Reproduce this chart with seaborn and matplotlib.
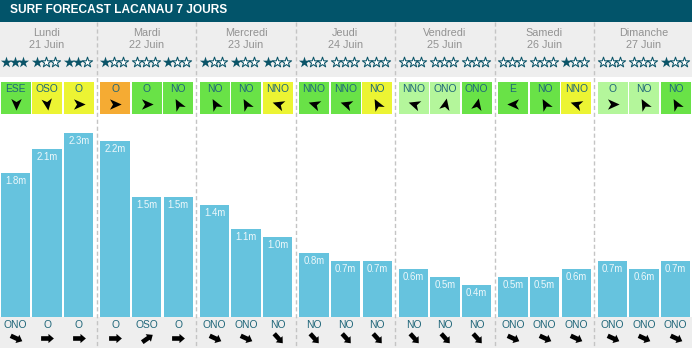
import numpy as np
import pandas as pd
import matplotlib
matplotlib.use("Agg")
import matplotlib.pyplot as plt
import seaborn as sns
from matplotlib.patches import Rectangle
from matplotlib.path import Path
from matplotlib.markers import MarkerStyle
from matplotlib.transforms import Affine2D

# ---------------- data ----------------
title = "SURF FORECAST LACANAU 7 JOURS"
days = ["Lundi", "Mardi", "Mercredi", "Jeudi", "Vendredi", "Samedi", "Dimanche"]
dates = ["21 Juin", "22 Juin", "23 Juin", "24 Juin", "25 Juin", "26 Juin", "27 Juin"]

wave_heights = [1.8, 2.1, 2.3,
                2.2, 1.5, 1.5,
                1.4, 1.1, 1.0,
                0.8, 0.7, 0.7,
                0.6, 0.5, 0.4,
                0.5, 0.5, 0.6,
                0.7, 0.6, 0.7]

stars = [3, 1, 2,
         1, 0, 1,
         1, 1, 1,
         1, 0, 0,
         0, 0, 0,
         0, 0, 1,
         0, 0, 1]

wind_dirs = ["ESE", "OSO", "O",
             "O", "O", "NO",
             "NO", "NO", "NNO",
             "NNO", "NNO", "NO",
             "NNO", "ONO", "ONO",
             "E", "NO", "NNO",
             "O", "NO", "NO"]

# wind quality category per slot: g=green, y=yellow, o=orange, l=light green
wind_quality = ["g", "y", "y",
                "o", "g", "g",
                "g", "g", "y",
                "g", "g", "y",
                "l", "l", "g",
                "g", "g", "y",
                "l", "l", "g"]

# drawn angle of the wind arrow glyphs (degrees, as seen)
wind_arrow_angles = [-90, -82, 0,
                     0, 0, 118,
                     118, 118, 162,
                     162, 162, 118,
                     162, 78, 78,
                     180, 118, 162,
                     0, 118, 118]

swell_dirs = ["ONO", "O", "O",
              "O", "OSO", "O",
              "ONO", "ONO", "NO",
              "NO", "NO", "NO",
              "NO", "NO", "NO",
              "ONO", "ONO", "ONO",
              "ONO", "ONO", "ONO"]

swell_angle = {"O": 0, "ONO": -25, "NO": -48, "OSO": 35}

# ---------------- style ----------------
W, H = 692, 348
HEADER = "#02546a"
GREY_BAND = "#eeeeee"
BAR = "#66c3de"
STAR = "#0b5468"
TEAL_TXT = "#1f6679"
qual_colors = {"g": "#69e247", "y": "#ecf433", "o": "#f5ab33", "l": "#b4f69b"}
FONT = "Liberation Sans"

fig = plt.figure(figsize=(W / 100, H / 100), dpi=100)
fig.patch.set_facecolor("white")

ov = fig.add_axes([0, 0, 1, 1])
ov.set_xlim(0, W)
ov.set_ylim(H, 0)
ov.axis("off")

# layout helpers
day_w = 99.5
day0 = -2.8
slot_w = 31.6
centers = [day0 + day_w * (i // 3) + 18.3 + slot_w * (i % 3) for i in range(21)]

# bands
ov.add_patch(Rectangle((0, 0), W, 22, color=HEADER, lw=0, zorder=1))
ov.add_patch(Rectangle((0, 22), W, 55, color=GREY_BAND, lw=0, zorder=1))
ov.add_patch(Rectangle((0, 317), W, 31, color=GREY_BAND, lw=0, zorder=1))
ov.text(10.5, 10, title, color="white", fontsize=8.6, fontweight="bold",
        family=FONT, va="center", ha="left", zorder=3)

# separators
for j in range(1, 7):
    x = day0 + day_w * j
    ov.plot([x, x], [22, H], color="#c4c4c4", lw=1, ls=(0, (3, 2)), zorder=2)

# day labels
for d in range(7):
    cx = day0 + day_w * (d + 0.5)
    ov.text(cx, 32.5, days[d], color="#929292", fontsize=7.8, family=FONT,
            ha="center", va="center", zorder=3)
    ov.text(cx, 44.5, dates[d], color="#929292", fontsize=7.8, family=FONT,
            ha="center", va="center", zorder=3)

# stars
for i, c in enumerate(centers):
    for s in range(3):
        x = c - 1 + (s - 1) * 8.9
        if s < stars[i]:
            ov.scatter([x], [62], marker="*", s=72, color=STAR, lw=0, zorder=4)
        else:
            ov.scatter([x], [62], marker="*", s=60, facecolor="white",
                       edgecolor=STAR, lw=0.75, zorder=4)

# arrow shapes
dart = Path([(1, 0), (-0.9, 0.85), (-0.4, 0), (-0.9, -0.85), (1, 0)],
            [Path.MOVETO, Path.LINETO, Path.LINETO, Path.LINETO, Path.CLOSEPOLY])
block = Path([(-1, -0.36), (0.15, -0.36), (0.15, -0.72), (1, 0), (0.15, 0.72),
              (0.15, 0.36), (-1, 0.36), (-1, -0.36)],
             [Path.MOVETO] + [Path.LINETO] * 6 + [Path.CLOSEPOLY])

# wind boxes
for i, c in enumerate(centers):
    ov.add_patch(Rectangle((c - 15, 82), 30, 32, color=qual_colors[wind_quality[i]],
                           lw=0, zorder=3))
    ov.text(c, 89.5, wind_dirs[i], color=TEAL_TXT, fontsize=7.4, family=FONT,
            ha="center", va="center", zorder=4)
    m = MarkerStyle(dart, transform=Affine2D().rotate_deg(wind_arrow_angles[i]))
    ov.scatter([c], [104], marker=m, s=78, color="black", lw=0, zorder=4)

# swell labels + arrows
for i, c in enumerate(centers):
    ov.text(c, 325, swell_dirs[i], color=TEAL_TXT, fontsize=7.4, family=FONT,
            ha="center", va="center", zorder=4)
    m = MarkerStyle(block, transform=Affine2D().rotate_deg(swell_angle[swell_dirs[i]]))
    ov.scatter([c], [338], marker=m, s=85, color="black", lw=0, zorder=4)

# ---------------- bars ----------------
bx = fig.add_axes([0, 31 / H, 1, 200 / H])
bx.patch.set_alpha(0)
df = pd.DataFrame({"pos": np.round(centers, 2), "height": wave_heights})
sns.barplot(data=df, x="pos", y="height", native_scale=True, color=BAR,
            saturation=1, width=0.93, errorbar=None, linewidth=0, ax=bx)
bx.set_xlim(0, W)
bx.set_ylim(0, 2.5)
bx.axis("off")
for p, h in zip(df["pos"], df["height"]):
    bx.text(p, h - 0.095, f"{h:.1f}m", color="#eef8fb", fontsize=6.9, family=FONT,
            ha="center", va="center")

fig.savefig("out.png", dpi=100)
